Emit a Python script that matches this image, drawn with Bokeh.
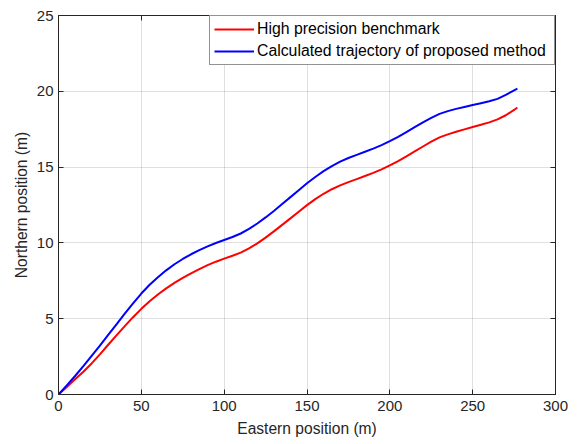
from bokeh.plotting import figure
from bokeh.models import Range1d, LinearAxis, SingleIntervalTicker, Legend, LegendItem, ColumnDataSource
from bokeh.embed import file_html
from bokeh.resources import INLINE

# ---- data ----
east = [0, 5, 10, 15, 20, 25, 30, 35, 40, 45, 50, 55, 60, 65, 70, 75, 80, 85, 90, 95,
        100, 105, 110, 115, 120, 125, 130, 135, 140, 145, 150, 155, 160, 165, 170, 175,
        180, 185, 190, 195, 200, 205, 210, 215, 220, 225, 230, 235, 240, 245, 250, 255,
        260, 265, 270, 275, 277]
north_benchmark = [0, 0.5, 1.0, 1.5, 2.05, 2.65, 3.28, 3.9, 4.51, 5.1, 5.65, 6.15, 6.6, 7.0,
                   7.36, 7.69, 7.99, 8.27, 8.53, 8.76, 8.96, 9.15, 9.36, 9.64, 9.97, 10.35,
                   10.76, 11.19, 11.62, 12.06, 12.49, 12.89, 13.24, 13.54, 13.79, 14.01,
                   14.21, 14.41, 14.62, 14.85, 15.11, 15.4, 15.71, 16.03, 16.36, 16.68,
                   16.96, 17.16, 17.33, 17.49, 17.64, 17.79, 17.95, 18.15, 18.42, 18.77, 18.93]
north_proposed = [0, 0.6, 1.22, 1.87, 2.55, 3.23, 3.93, 4.63, 5.33, 6.01, 6.66, 7.24, 7.74,
                  8.19, 8.59, 8.94, 9.25, 9.52, 9.77, 9.99, 10.19, 10.39, 10.62, 10.92, 11.28,
                  11.68, 12.11, 12.56, 13.02, 13.48, 13.93, 14.35, 14.73, 15.07, 15.36, 15.6,
                  15.81, 16.01, 16.22, 16.45, 16.71, 17.0, 17.31, 17.63, 17.95, 18.25, 18.51,
                  18.69, 18.84, 18.97, 19.09, 19.21, 19.34, 19.5, 19.76, 20.06, 20.17]
series_labels = ["High precision benchmark", "Calculated trajectory of proposed method"]
x_label = "Eastern position (m)"
y_label = "Northern position (m)"

FONT = "Liberation Sans"
DARK = "#262626"

p = figure(width=581, height=444, x_range=Range1d(0, 300), y_range=Range1d(0, 25),
           output_backend="svg", toolbar_location=None,
           min_border_left=58, min_border_right=26, min_border_top=15, min_border_bottom=50,
           background_fill_color="white", border_fill_color="white",
           outline_line_color=DARK, outline_line_width=1)

src = ColumnDataSource(dict(x=east, yb=north_benchmark, yp=north_proposed))
r1 = p.line("x", "yb", source=src, line_color="#ff0000", line_width=2, line_join="round")
r2 = p.line("x", "yp", source=src, line_color="#0000ff", line_width=2, line_join="round")

# box-style extra axes (ticks only, no labels)
top_ax = LinearAxis()
right_ax = LinearAxis()
p.add_layout(top_ax, "above")
p.add_layout(right_ax, "right")

xt = SingleIntervalTicker(interval=50, num_minor_ticks=0)
yt = SingleIntervalTicker(interval=5, num_minor_ticks=0)
for ax in p.xaxis:
    ax.ticker = xt
for ax in p.yaxis:
    ax.ticker = yt
p.xgrid.ticker = xt
p.ygrid.ticker = yt

for ax in list(p.xaxis) + list(p.yaxis):
    ax.major_tick_in = 5
    ax.major_tick_out = 0
    ax.minor_tick_line_color = None
    ax.axis_line_color = DARK
    ax.major_tick_line_color = DARK
    ax.major_label_text_font = FONT
    ax.major_label_text_font_size = "15px"
    ax.major_label_text_color = DARK

for ax in (top_ax, right_ax):
    ax.major_label_text_font_size = "1px"
    ax.major_label_text_color = None
    ax.major_label_standoff = 0
    ax.axis_label = None

bx = p.below[0]
ly = p.left[0]
bx.axis_label = x_label
ly.axis_label = y_label
for ax in (bx, ly):
    ax.axis_label_text_font = FONT
    ax.axis_label_text_font_size = "15.6px"
    ax.axis_label_text_font_style = "normal"
    ax.axis_label_text_color = DARK
bx.major_label_standoff = 6
bx.axis_label_standoff = 6
ly.major_label_standoff = 5
ly.axis_label_standoff = 4

p.xgrid.grid_line_color = DARK
p.xgrid.grid_line_alpha = 0.15
p.ygrid.grid_line_color = DARK
p.ygrid.grid_line_alpha = 0.15

legend = Legend(items=[LegendItem(label=series_labels[0], renderers=[r1]),
                       LegendItem(label=series_labels[1], renderers=[r2])],
                location="top_right", margin=0, padding=4, spacing=4,
                glyph_width=40, glyph_height=18, label_height=18, label_standoff=3,
                label_width=293,
                label_text_font=FONT, label_text_font_size="15.8px", label_text_color="#000000",
                border_line_color=DARK, border_line_width=1,
                background_fill_color="white", background_fill_alpha=1)
p.add_layout(legend)

open("out.html", "w").write(file_html(p, INLINE))
